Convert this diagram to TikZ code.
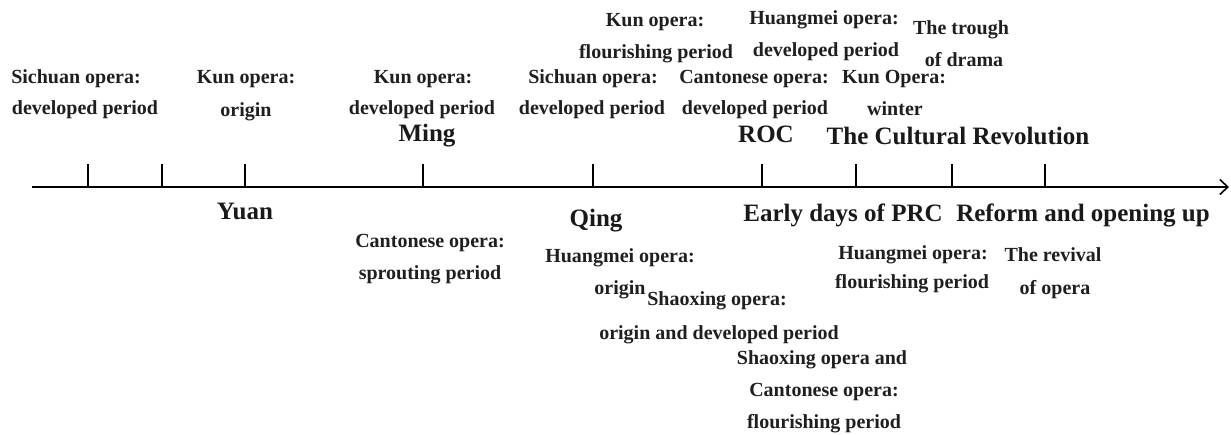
\documentclass[tikz,border=0pt]{standalone}
\usepackage{fontspec}
\setmainfont{Liberation Serif}
\usetikzlibrary{arrows.meta}
\begin{document}
\begin{tikzpicture}[x=1pt,y=-1pt,
  sm/.style={anchor=mid,inner sep=0pt,yshift=-4pt,font=\fontsize{20}{24}\selectfont\bfseries,text=black!88},
  lg/.style={anchor=mid,inner sep=0pt,yshift=-3pt,font=\fontsize{25}{30}\selectfont\bfseries,text=black!90},
  axis/.style={line width=2.6pt,-{Straight Barb[length=8pt,width=15pt,line width=1.6pt]}},
  tick/.style={line width=2pt}]
\useasboundingbox (0,0) rectangle (1231,434);
\fill[white] (0,0) rectangle (1231,434);
% axis
\coordinate (s) at (32,187);
\coordinate (e) at (1229,187);
\draw[axis] (s) -- (e);
\foreach \n/\x in {1/88,2/162,3/245,4/423,5/593,6/762,7/856,8/952,9/1045}{
  \coordinate (t\n) at (\x,187);
  \draw[tick] (t\n) -- ++(0,-23);
}
% periods
\node[lg] (yuan) at (245,214) {Yuan};
\node[lg] (ming) at (427,136) {Ming};
\node[lg] (qing) at (596,221) {Qing};
\node[lg] (roc) at (766,137) {ROC};
\node[lg] (prc) at (843,216) {Early days of PRC};
\node[lg] (cr) at (958,139) {The Cultural Revolution};
\node[lg] (ref) at (1083,216) {Reform and opening up};
% upper labels
\node[sm] (a1) at (76,77) {Sichuan opera:};
\node[sm] (a2) at (85,108) {developed period};
\node[sm] (b1) at (246,77) {Kun opera:};
\node[sm] (b2) at (246,110) {origin};
\node[sm] (c1) at (423,77) {Kun opera:};
\node[sm] (c2) at (422,108) {developed period};
\node[sm] (d1) at (593,77) {Sichuan opera:};
\node[sm] (d2) at (592,108) {developed period};
\node[sm] (e1) at (655,20) {Kun opera:};
\node[sm] (e2) at (656,52) {flourishing period};
\node[sm] (f1) at (754,77) {Cantonese opera:};
\node[sm] (f2) at (755,108) {developed period};
\node[sm] (g1) at (824,18) {Huangmei opera:};
\node[sm] (g2) at (826,50) {developed period};
\node[sm] (h1) at (894,77) {Kun Opera:};
\node[sm] (h2) at (895,109) {winter};
\node[sm] (i1) at (961,28) {The trough};
\node[sm] (i2) at (964,60) {of drama};
% lower labels
\node[sm] (j1) at (430,241) {Cantonese opera:};
\node[sm] (j2) at (430,273) {sprouting period};
\node[sm] (k1) at (620,256) {Huangmei opera:};
\node[sm] (k2) at (620,288) {origin};
\node[sm] (l1) at (717,299) {Shaoxing opera:};
\node[sm] (l2) at (719,333) {origin and developed period};
\node[sm] (m1) at (822,358) {Shaoxing opera and};
\node[sm] (m2) at (824,390) {Cantonese opera:};
\node[sm] (m3) at (824,422) {flourishing period};
\node[sm] (n1) at (913,253) {Huangmei opera:};
\node[sm] (n2) at (912,282) {flourishing period};
\node[sm] (o1) at (1053,255) {The revival};
\node[sm] (o2) at (1055,288) {of opera};
\end{tikzpicture}
\end{document}
